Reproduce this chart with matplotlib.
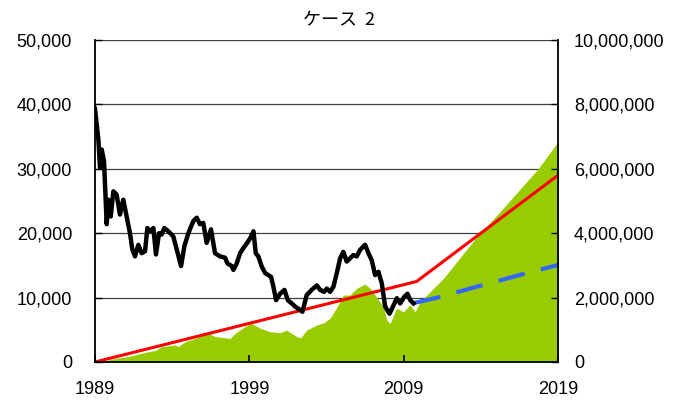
import numpy as np
import matplotlib.pyplot as plt
from matplotlib.ticker import FuncFormatter

# months counted from Dec 1989
nikkei_month = [0, 2.6, 3.9, 5.2, 7, 9.1, 10.4, 12.2, 14.3, 16.8, 19.4, 22, 24.6, 27.2,
                29, 31.1, 33.7, 36.3, 38.9, 40.7, 42.8, 45.4, 47.4, 49.8, 51.8, 53.9,
                57, 60.9, 63.5, 66.9, 69.5, 72.6, 76.5, 79.1, 81.6, 84.2, 86.8, 90.2,
                93.3, 97.2, 101.1, 103, 106.3, 107.6, 110.2, 112.8,
                115.4, 118, 120.6, 123.2, 125, 127, 129.7, 132.3, 134.8, 136.9, 138.7,
                140.8, 143.9, 147.3, 149.9, 153, 155.6, 159.4, 161.3, 164.6, 168.5,
                172.5, 175, 178.1, 180.2, 182.8, 185.4, 188, 190.6, 193.1, 195.7,
                198.3, 200.9, 203.5, 206.1, 210, 212.6, 215.2, 217.8, 220.4, 223,
                225.6, 229, 232.1, 234.7, 237.3, 240.4, 243, 245.1, 247.7]
nikkei = [39300, 34600, 30200, 33000, 31200, 21400, 25200, 22600, 26500, 26000, 22900,
          25200, 22600, 20000, 17500, 16400, 18200, 16900, 17200, 20800, 20300, 20800,
          16700, 20000, 19800, 20800, 20300, 19500, 17500, 14900, 18000, 20000, 21900,
          22400, 21400, 21600, 18500, 20600, 16900, 16400, 16200, 15300, 14900, 14300,
          15300, 16900, 17700, 18400, 19200, 20300, 16900,
          16400, 14800, 13800, 13500, 13200, 11700, 9600, 10600, 11200, 9600, 9100,
          8600, 8100, 7800, 10400, 11200, 11900, 11200, 10900, 11400, 10900, 11700,
          13800, 16100, 17100, 15600, 16100, 16600, 16400, 17400, 18200, 16900, 15800,
          13500, 14000, 12200, 8600, 7500, 8800, 9900, 9100, 10100, 10600, 9600, 9100]

# assumed index path after 2010
proj_month = [248, 268.3, 301.7, 336, 360]
proj_index = [9160, 10100, 11960, 13820, 15060]

# total amount invested (yen)
invest_month = [0, 250, 360]
invest_total = [0, 2500000, 5800000]

# portfolio value (million yen)
value_month = [0, 10.4, 17, 25.9, 33, 41.5, 47, 51.8, 57, 62.2, 64.8, 70, 77.8, 82,
               88.1, 93.3, 98.5, 105, 108.9, 116.6, 121.5, 128.3, 136.1, 143.8, 149,
               156.8, 160, 164.6, 172.4, 178, 182.8, 188.4, 193.1, 198.3, 203.5, 210,
               215.2, 220.4, 224.3, 226.8, 229.4, 234.6, 239.8, 245, 248.9, 252.8,
               271, 296.9, 315, 344.8, 360]
value_total = [0, 0.06, 0.12, 0.17, 0.24, 0.32, 0.36, 0.48, 0.5, 0.53, 0.48, 0.63,
               0.73, 0.8, 0.89, 0.79, 0.77, 0.73, 0.89, 1.10, 1.2, 1.05, 0.94, 0.91,
               0.99, 0.79, 0.75, 0.99, 1.15, 1.22, 1.36, 1.72, 2.08, 2.08, 2.29, 2.42,
               2.24, 1.93, 1.72, 1.30, 1.2, 1.67, 1.56, 1.77, 1.56, 1.87,
               2.6, 3.89, 4.67, 6.01, 6.84]
value_total = [v * 1e6 for v in value_total]

year_ticks = [0, 120, 240, 360]
year_labels = ['1989', '1999', '2009', '2019']

plt.rcParams['font.family'] = ['Liberation Sans', 'DejaVu Sans']

fig = plt.figure(figsize=(6.78, 4.01), dpi=100)
ax = fig.add_axes([95 / 678, 1 - 362 / 401, (558 - 95) / 678, (362 - 40) / 401])
ax2 = ax.twinx()
ax.set_zorder(ax2.get_zorder() + 1)
ax.patch.set_visible(False)

# right axis: value and invested amount
ax2.fill_between(value_month, value_total, 0, color='#99CC00', lw=0, zorder=1)
ax2.plot(invest_month, invest_total, color='#FF0000', lw=2.2, zorder=3)
ax2.set_ylim(0, 10000000)
ax2.set_yticks(np.arange(0, 10000001, 2000000))
ax2.grid(axis='y', color='#404040', lw=0.9)
ax2.set_axisbelow(True)
ax2.tick_params(axis='y', length=0, pad=11.5, labelsize=13)
ax2.yaxis.set_major_formatter(FuncFormatter(lambda v, p: f'{v:,.0f}'))
for s in ax2.spines.values():
    s.set_visible(False)

# left axis: index
ax.plot(proj_month, proj_index, color='#3366FF', lw=3, dashes=(6.5, 4), zorder=2)
ax.plot(nikkei_month, nikkei, color='black', lw=3.2, zorder=3, solid_joinstyle='round')
ax.set_ylim(0, 50000)
ax.set_xlim(0, 360)
ax.set_yticks(np.arange(0, 50001, 10000))
ax.yaxis.set_major_formatter(FuncFormatter(lambda v, p: f'{v:,.0f}'))
ax.set_xticks(year_ticks)
ax.set_xticklabels(year_labels)
ax.tick_params(axis='y', direction='in', length=5, width=1, pad=16.5, labelsize=13,
               right=True)
ax.tick_params(axis='x', direction='in', length=5, width=1.2, pad=14, labelsize=13)
ax.spines['top'].set_visible(False)
for side in ['left', 'bottom', 'right']:
    ax.spines[side].set_linewidth(1.3)

fig.text(0.5, 1 - 20 / 401, 'ケース  2', ha='center', va='center', fontsize=13,
         family=['Noto Sans CJK JP', 'DejaVu Sans'])

fig.savefig('out.png', dpi=100)
